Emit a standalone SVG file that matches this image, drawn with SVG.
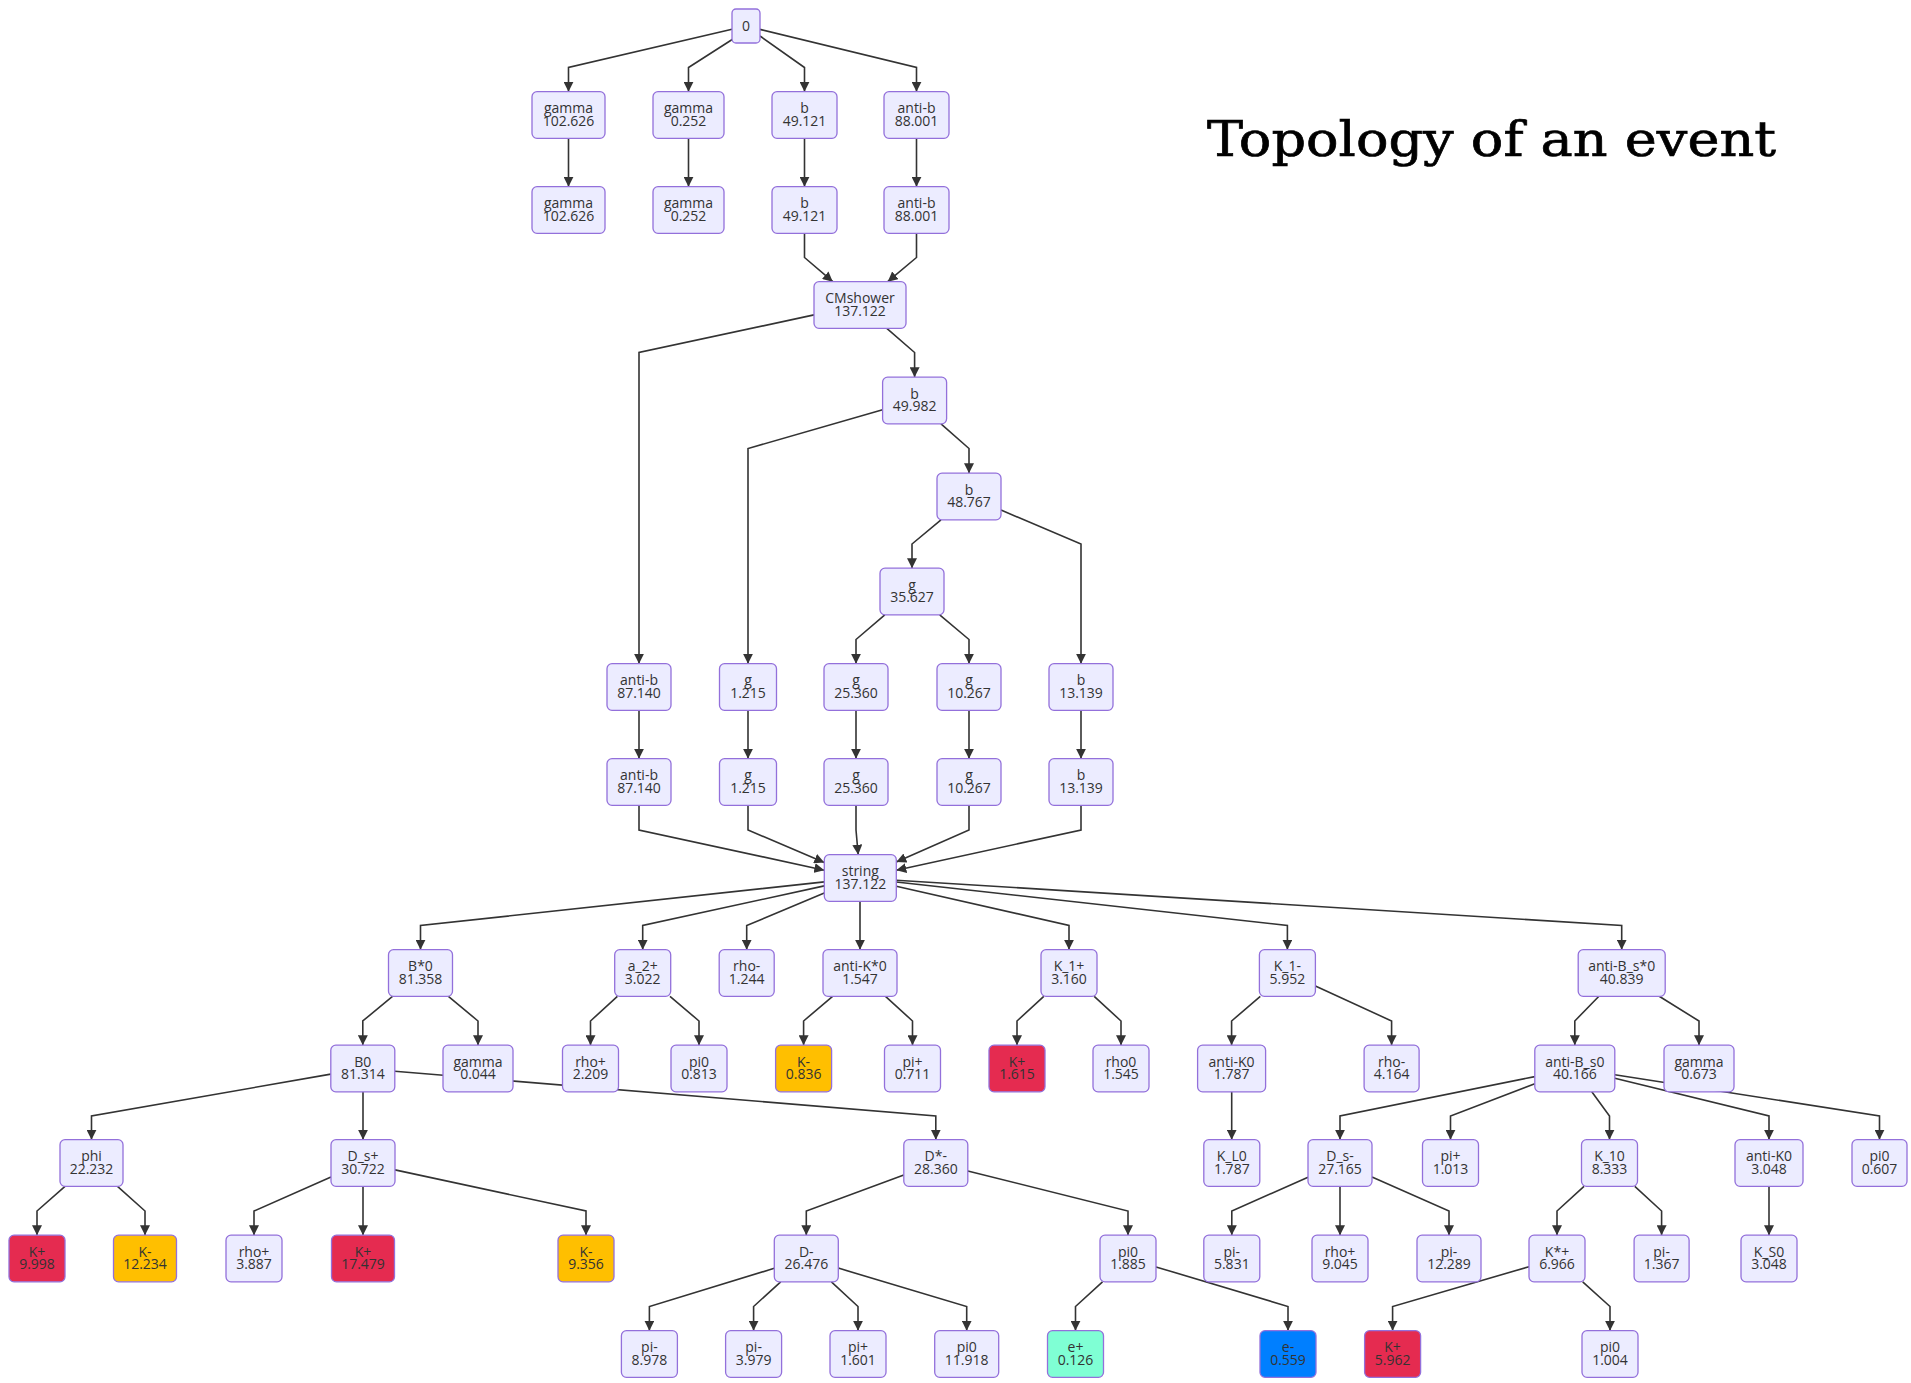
<svg xmlns="http://www.w3.org/2000/svg" width="1911" height="1383" viewBox="0 0 1911 1383">
<style>
.node rect{fill:#ECECFF;stroke:#9370DB;stroke-width:1.3}
.node.kp rect{fill:#E52B50}
.node.km rect{fill:#FFBF00}
.node.ep rect{fill:#7FFFD4}
.node.em rect{fill:#007FFF}
.node text{font-family:"Open Sans","DejaVu Sans",sans-serif;font-size:14px;fill:#333;text-anchor:middle}
.edges path{fill:none;stroke:#333;stroke-width:1.6;marker-end:url(#arrow)}
.title{font-family:"DejaVu Serif","Liberation Serif",serif;font-size:49px;fill:#000;stroke:#000;stroke-width:0.7}
</style>
<defs>
<marker id="arrow" viewBox="0 0 10 10" refX="10" refY="5" markerUnits="userSpaceOnUse" markerWidth="10" markerHeight="10" orient="auto"><path d="M0,0 L10,5 L0,10 z" fill="#333"/></marker>
</defs>
<rect x="0" y="0" width="1911" height="1383" fill="#fff"/>
<text class="title" x="1207" y="156" textLength="569" lengthAdjust="spacingAndGlyphs">Topology of an event</text>
<g class="edges" id="connectors">
<path d="M732,29.3 L568.5,67.5 L568.5,91.7"/>
<path d="M733,39 L688.5,67.5 L688.5,91.7"/>
<path d="M760,36 L804.5,67.5 L804.5,91.7"/>
<path d="M760,29.4 L916.5,67.5 L916.5,91.7"/>
<path d="M568.5,138.3 V186.7"/>
<path d="M688.5,138.3 V186.7"/>
<path d="M804.5,138.3 V186.7"/>
<path d="M916.5,138.3 V186.7"/>
<path d="M804.5,233.3 L804.5,257.5 L832.8,281.7"/>
<path d="M916.5,233.3 L916.5,257.5 L887.7,281.7"/>
<path d="M814,314.9 L639,352.5 L639,663.7"/>
<path d="M886.8,328.3 L914.6,352.5 L914.6,377.2"/>
<path d="M882.6,409.7 L748,448.5 L748,663.7"/>
<path d="M941,423.8 L969,448.5 L969,473.2"/>
<path d="M941,519.8 L912,544 L912,568.2"/>
<path d="M1001,510.1 L1081,544 L1081,663.7"/>
<path d="M884.8,614.8 L856,639.5 L856,663.7"/>
<path d="M939.7,614.8 L969,639.5 L969,663.7"/>
<path d="M639,710.3 V758.7"/>
<path d="M748,710.3 V758.7"/>
<path d="M856,710.3 V758.7"/>
<path d="M969,710.3 V758.7"/>
<path d="M1081,710.3 V758.7"/>
<path d="M639,805.3 L639,830 L824.3,870.2"/>
<path d="M748,805.3 L748,830 L824.3,862.6"/>
<path d="M856,805.3 L856,830 L858.2,854.7"/>
<path d="M969,805.3 L969,830 L896.3,862.1"/>
<path d="M1081,805.3 L1081,830 L896.3,870.2"/>
<path d="M824.3,881.9 L420.5,925.5 L420.5,949.7"/>
<path d="M824.3,885.9 L642.7,925.5 L642.7,949.7"/>
<path d="M824.3,893.1 L746.7,925.5 L746.7,949.7"/>
<path d="M860,901.3 V949.7"/>
<path d="M896.3,886.2 L1069,925.5 L1069,949.7"/>
<path d="M896.3,882 L1287.4,925.5 L1287.4,949.7"/>
<path d="M896.3,880.2 L1621.7,925.5 L1621.7,949.7"/>
<path d="M392.5,996.3 L362.8,1021 L362.8,1045.2"/>
<path d="M448.4,996.3 L478,1021 L478,1045.2"/>
<path d="M617.4,996.3 L590.5,1021 L590.5,1045.2"/>
<path d="M670,996.3 L699,1021 L699,1045.2"/>
<path d="M832.6,996.3 L803.6,1021 L803.6,1045.2"/>
<path d="M885.5,996.3 L912.5,1021 L912.5,1045.2"/>
<path d="M1043.8,996.3 L1017,1021 L1017,1045.2"/>
<path d="M1094.2,996.3 L1121,1021 L1121,1045.2"/>
<path d="M1260.3,996.3 L1231.6,1021 L1231.6,1045.2"/>
<path d="M1315.4,985.9 L1391.6,1021 L1391.6,1045.2"/>
<path d="M1598.9,996.3 L1574.8,1021 L1574.8,1045.2"/>
<path d="M1659.2,996.3 L1699,1021 L1699,1045.2"/>
<path d="M330.8,1074.1 L91.5,1116 L91.5,1139.7"/>
<path d="M363,1091.8 V1139.7"/>
<path d="M394.8,1071.2 L935.8,1116 L935.8,1139.7"/>
<path d="M1231.7,1091.8 V1139.7"/>
<path d="M1534.8,1076.6 L1340,1116 L1340,1139.7"/>
<path d="M1534.8,1083.8 L1450.5,1116 L1450.5,1139.7"/>
<path d="M1591.8,1091.8 L1609.5,1116 L1609.5,1139.7"/>
<path d="M1614.8,1078.3 L1769,1116 L1769,1139.7"/>
<path d="M1614.8,1074.7 L1879.5,1116 L1879.5,1139.7"/>
<path d="M65,1186.3 L37,1211 L37,1235.2"/>
<path d="M117.5,1186.3 L145,1211 L145,1235.2"/>
<path d="M331,1177.1 L254,1211 L254,1235.2"/>
<path d="M363,1186.3 V1235.2"/>
<path d="M395,1169.9 L586,1211 L586,1235.2"/>
<path d="M903.8,1174.9 L806.3,1211 L806.3,1235.2"/>
<path d="M967.8,1171 L1128,1211 L1128,1235.2"/>
<path d="M1308,1177.2 L1231.8,1211 L1231.8,1235.2"/>
<path d="M1340,1186.3 V1235.2"/>
<path d="M1372,1177.1 L1449,1211 L1449,1235.2"/>
<path d="M1584,1186.3 L1557,1211 L1557,1235.2"/>
<path d="M1634.8,1186.3 L1661.6,1211 L1661.6,1235.2"/>
<path d="M1769,1186.3 V1235.2"/>
<path d="M774.3,1268.3 L649.4,1306.5 L649.4,1330.7"/>
<path d="M780.7,1281.8 L753.6,1306.5 L753.6,1330.7"/>
<path d="M831.4,1281.8 L858,1306.5 L858,1330.7"/>
<path d="M838.3,1268.1 L966.7,1306.5 L966.7,1330.7"/>
<path d="M1102.5,1281.8 L1075.5,1306.5 L1075.5,1330.7"/>
<path d="M1156,1266.9 L1288,1306.5 L1288,1330.7"/>
<path d="M1529,1266.7 L1392.6,1306.5 L1392.6,1330.7"/>
<path d="M1582.7,1281.8 L1610,1306.5 L1610,1330.7"/>
</g>
<g id="n0" class="node"><rect x="732" y="9" width="28" height="34" rx="4"/><text x="746" y="31">0</text></g>
<g id="n1a" class="node"><rect x="532" y="91.7" width="73" height="46.6" rx="5"/><text><tspan x="568.5" y="113">gamma</tspan><tspan x="568.5" y="125.5">102.626</tspan></text></g>
<g id="n1b" class="node"><rect x="653" y="91.7" width="71" height="46.6" rx="5"/><text><tspan x="688.5" y="113">gamma</tspan><tspan x="688.5" y="125.5">0.252</tspan></text></g>
<g id="n1c" class="node"><rect x="772" y="91.7" width="65" height="46.6" rx="5"/><text><tspan x="804.5" y="113">b</tspan><tspan x="804.5" y="125.5">49.121</tspan></text></g>
<g id="n1d" class="node"><rect x="884" y="91.7" width="65" height="46.6" rx="5"/><text><tspan x="916.5" y="113">anti-b</tspan><tspan x="916.5" y="125.5">88.001</tspan></text></g>
<g id="n2a" class="node"><rect x="532" y="186.7" width="73" height="46.6" rx="5"/><text><tspan x="568.5" y="208">gamma</tspan><tspan x="568.5" y="220.5">102.626</tspan></text></g>
<g id="n2b" class="node"><rect x="653" y="186.7" width="71" height="46.6" rx="5"/><text><tspan x="688.5" y="208">gamma</tspan><tspan x="688.5" y="220.5">0.252</tspan></text></g>
<g id="n2c" class="node"><rect x="772" y="186.7" width="65" height="46.6" rx="5"/><text><tspan x="804.5" y="208">b</tspan><tspan x="804.5" y="220.5">49.121</tspan></text></g>
<g id="n2d" class="node"><rect x="884" y="186.7" width="65" height="46.6" rx="5"/><text><tspan x="916.5" y="208">anti-b</tspan><tspan x="916.5" y="220.5">88.001</tspan></text></g>
<g id="n3" class="node"><rect x="814" y="281.7" width="92" height="46.6" rx="5"/><text><tspan x="860" y="303">CMshower</tspan><tspan x="860" y="315.5">137.122</tspan></text></g>
<g id="n4" class="node"><rect x="882.6" y="377.2" width="64" height="46.6" rx="5"/><text><tspan x="914.6" y="398.5">b</tspan><tspan x="914.6" y="411">49.982</tspan></text></g>
<g id="n5" class="node"><rect x="937" y="473.2" width="64" height="46.6" rx="5"/><text><tspan x="969" y="494.5">b</tspan><tspan x="969" y="507">48.767</tspan></text></g>
<g id="n6" class="node"><rect x="880" y="568.2" width="64" height="46.6" rx="5"/><text><tspan x="912" y="589.5">g</tspan><tspan x="912" y="602">35.627</tspan></text></g>
<g id="n7a" class="node"><rect x="607" y="663.7" width="64" height="46.6" rx="5"/><text><tspan x="639" y="685">anti-b</tspan><tspan x="639" y="697.5">87.140</tspan></text></g>
<g id="n7b" class="node"><rect x="719.5" y="663.7" width="57" height="46.6" rx="5"/><text><tspan x="748" y="685">g</tspan><tspan x="748" y="697.5">1.215</tspan></text></g>
<g id="n7c" class="node"><rect x="824" y="663.7" width="64" height="46.6" rx="5"/><text><tspan x="856" y="685">g</tspan><tspan x="856" y="697.5">25.360</tspan></text></g>
<g id="n7d" class="node"><rect x="937" y="663.7" width="64" height="46.6" rx="5"/><text><tspan x="969" y="685">g</tspan><tspan x="969" y="697.5">10.267</tspan></text></g>
<g id="n7e" class="node"><rect x="1049" y="663.7" width="64" height="46.6" rx="5"/><text><tspan x="1081" y="685">b</tspan><tspan x="1081" y="697.5">13.139</tspan></text></g>
<g id="n8a" class="node"><rect x="607" y="758.7" width="64" height="46.6" rx="5"/><text><tspan x="639" y="780">anti-b</tspan><tspan x="639" y="792.5">87.140</tspan></text></g>
<g id="n8b" class="node"><rect x="719.5" y="758.7" width="57" height="46.6" rx="5"/><text><tspan x="748" y="780">g</tspan><tspan x="748" y="792.5">1.215</tspan></text></g>
<g id="n8c" class="node"><rect x="824" y="758.7" width="64" height="46.6" rx="5"/><text><tspan x="856" y="780">g</tspan><tspan x="856" y="792.5">25.360</tspan></text></g>
<g id="n8d" class="node"><rect x="937" y="758.7" width="64" height="46.6" rx="5"/><text><tspan x="969" y="780">g</tspan><tspan x="969" y="792.5">10.267</tspan></text></g>
<g id="n8e" class="node"><rect x="1049" y="758.7" width="64" height="46.6" rx="5"/><text><tspan x="1081" y="780">b</tspan><tspan x="1081" y="792.5">13.139</tspan></text></g>
<g id="n9" class="node"><rect x="824.3" y="854.7" width="72" height="46.6" rx="5"/><text><tspan x="860.3" y="876">string</tspan><tspan x="860.3" y="888.5">137.122</tspan></text></g>
<g id="n10a" class="node"><rect x="388.5" y="949.7" width="64" height="46.6" rx="5"/><text><tspan x="420.5" y="971">B*0</tspan><tspan x="420.5" y="983.5">81.358</tspan></text></g>
<g id="n10b" class="node"><rect x="614.7" y="949.7" width="56" height="46.6" rx="5"/><text><tspan x="642.7" y="971">a_2+</tspan><tspan x="642.7" y="983.5">3.022</tspan></text></g>
<g id="n10c" class="node"><rect x="719.2" y="949.7" width="55" height="46.6" rx="5"/><text><tspan x="746.7" y="971">rho-</tspan><tspan x="746.7" y="983.5">1.244</tspan></text></g>
<g id="n10d" class="node"><rect x="823" y="949.7" width="74" height="46.6" rx="5"/><text><tspan x="860" y="971">anti-K*0</tspan><tspan x="860" y="983.5">1.547</tspan></text></g>
<g id="n10e" class="node"><rect x="1041" y="949.7" width="56" height="46.6" rx="5"/><text><tspan x="1069" y="971">K_1+</tspan><tspan x="1069" y="983.5">3.160</tspan></text></g>
<g id="n10f" class="node"><rect x="1259.4" y="949.7" width="56" height="46.6" rx="5"/><text><tspan x="1287.4" y="971">K_1-</tspan><tspan x="1287.4" y="983.5">5.952</tspan></text></g>
<g id="n10g" class="node"><rect x="1578.2" y="949.7" width="87" height="46.6" rx="5"/><text><tspan x="1621.7" y="971">anti-B_s*0</tspan><tspan x="1621.7" y="983.5">40.839</tspan></text></g>
<g id="n11a" class="node"><rect x="330.8" y="1045.2" width="64" height="46.6" rx="5"/><text><tspan x="362.8" y="1066.5">B0</tspan><tspan x="362.8" y="1079">81.314</tspan></text></g>
<g id="n11b" class="node"><rect x="443" y="1045.2" width="70" height="46.6" rx="5"/><text><tspan x="478" y="1066.5">gamma</tspan><tspan x="478" y="1079">0.044</tspan></text></g>
<g id="n11c" class="node"><rect x="562.5" y="1045.2" width="56" height="46.6" rx="5"/><text><tspan x="590.5" y="1066.5">rho+</tspan><tspan x="590.5" y="1079">2.209</tspan></text></g>
<g id="n11d" class="node"><rect x="671" y="1045.2" width="56" height="46.6" rx="5"/><text><tspan x="699" y="1066.5">pi0</tspan><tspan x="699" y="1079">0.813</tspan></text></g>
<g id="n11e" class="node km"><rect x="775.6" y="1045.2" width="56" height="46.6" rx="5"/><text><tspan x="803.6" y="1066.5">K-</tspan><tspan x="803.6" y="1079">0.836</tspan></text></g>
<g id="n11f" class="node"><rect x="884.5" y="1045.2" width="56" height="46.6" rx="5"/><text><tspan x="912.5" y="1066.5">pi+</tspan><tspan x="912.5" y="1079">0.711</tspan></text></g>
<g id="n11g" class="node kp"><rect x="989" y="1045.2" width="56" height="46.6" rx="5"/><text><tspan x="1017" y="1066.5">K+</tspan><tspan x="1017" y="1079">1.615</tspan></text></g>
<g id="n11h" class="node"><rect x="1093" y="1045.2" width="56" height="46.6" rx="5"/><text><tspan x="1121" y="1066.5">rho0</tspan><tspan x="1121" y="1079">1.545</tspan></text></g>
<g id="n11i" class="node"><rect x="1197.6" y="1045.2" width="68" height="46.6" rx="5"/><text><tspan x="1231.6" y="1066.5">anti-K0</tspan><tspan x="1231.6" y="1079">1.787</tspan></text></g>
<g id="n11j" class="node"><rect x="1364.1" y="1045.2" width="55" height="46.6" rx="5"/><text><tspan x="1391.6" y="1066.5">rho-</tspan><tspan x="1391.6" y="1079">4.164</tspan></text></g>
<g id="n11k" class="node"><rect x="1534.8" y="1045.2" width="80" height="46.6" rx="5"/><text><tspan x="1574.8" y="1066.5">anti-B_s0</tspan><tspan x="1574.8" y="1079">40.166</tspan></text></g>
<g id="n11l" class="node"><rect x="1664" y="1045.2" width="70" height="46.6" rx="5"/><text><tspan x="1699" y="1066.5">gamma</tspan><tspan x="1699" y="1079">0.673</tspan></text></g>
<g id="n12a" class="node"><rect x="60" y="1139.7" width="63" height="46.6" rx="5"/><text><tspan x="91.5" y="1161">phi</tspan><tspan x="91.5" y="1173.5">22.232</tspan></text></g>
<g id="n12b" class="node"><rect x="331" y="1139.7" width="64" height="46.6" rx="5"/><text><tspan x="363" y="1161">D_s+</tspan><tspan x="363" y="1173.5">30.722</tspan></text></g>
<g id="n12c" class="node"><rect x="903.8" y="1139.7" width="64" height="46.6" rx="5"/><text><tspan x="935.8" y="1161">D*-</tspan><tspan x="935.8" y="1173.5">28.360</tspan></text></g>
<g id="n12d" class="node"><rect x="1203.8" y="1139.7" width="56" height="46.6" rx="5"/><text><tspan x="1231.8" y="1161">K_L0</tspan><tspan x="1231.8" y="1173.5">1.787</tspan></text></g>
<g id="n12e" class="node"><rect x="1308" y="1139.7" width="64" height="46.6" rx="5"/><text><tspan x="1340" y="1161">D_s-</tspan><tspan x="1340" y="1173.5">27.165</tspan></text></g>
<g id="n12f" class="node"><rect x="1422.5" y="1139.7" width="56" height="46.6" rx="5"/><text><tspan x="1450.5" y="1161">pi+</tspan><tspan x="1450.5" y="1173.5">1.013</tspan></text></g>
<g id="n12g" class="node"><rect x="1581.5" y="1139.7" width="56" height="46.6" rx="5"/><text><tspan x="1609.5" y="1161">K_10</tspan><tspan x="1609.5" y="1173.5">8.333</tspan></text></g>
<g id="n12h" class="node"><rect x="1735" y="1139.7" width="68" height="46.6" rx="5"/><text><tspan x="1769" y="1161">anti-K0</tspan><tspan x="1769" y="1173.5">3.048</tspan></text></g>
<g id="n12i" class="node"><rect x="1852" y="1139.7" width="55" height="46.6" rx="5"/><text><tspan x="1879.5" y="1161">pi0</tspan><tspan x="1879.5" y="1173.5">0.607</tspan></text></g>
<g id="n13a" class="node kp"><rect x="9" y="1235.2" width="56" height="46.6" rx="5"/><text><tspan x="37" y="1256.5">K+</tspan><tspan x="37" y="1269">9.998</tspan></text></g>
<g id="n13b" class="node km"><rect x="113.5" y="1235.2" width="63" height="46.6" rx="5"/><text><tspan x="145" y="1256.5">K-</tspan><tspan x="145" y="1269">12.234</tspan></text></g>
<g id="n13c" class="node"><rect x="226" y="1235.2" width="56" height="46.6" rx="5"/><text><tspan x="254" y="1256.5">rho+</tspan><tspan x="254" y="1269">3.887</tspan></text></g>
<g id="n13d" class="node kp"><rect x="331.5" y="1235.2" width="63" height="46.6" rx="5"/><text><tspan x="363" y="1256.5">K+</tspan><tspan x="363" y="1269">17.479</tspan></text></g>
<g id="n13e" class="node km"><rect x="558" y="1235.2" width="56" height="46.6" rx="5"/><text><tspan x="586" y="1256.5">K-</tspan><tspan x="586" y="1269">9.356</tspan></text></g>
<g id="n13f" class="node"><rect x="774.3" y="1235.2" width="64" height="46.6" rx="5"/><text><tspan x="806.3" y="1256.5">D-</tspan><tspan x="806.3" y="1269">26.476</tspan></text></g>
<g id="n13g" class="node"><rect x="1100" y="1235.2" width="56" height="46.6" rx="5"/><text><tspan x="1128" y="1256.5">pi0</tspan><tspan x="1128" y="1269">1.885</tspan></text></g>
<g id="n13h" class="node"><rect x="1203.8" y="1235.2" width="56" height="46.6" rx="5"/><text><tspan x="1231.8" y="1256.5">pi-</tspan><tspan x="1231.8" y="1269">5.831</tspan></text></g>
<g id="n13i" class="node"><rect x="1312" y="1235.2" width="56" height="46.6" rx="5"/><text><tspan x="1340" y="1256.5">rho+</tspan><tspan x="1340" y="1269">9.045</tspan></text></g>
<g id="n13j" class="node"><rect x="1417" y="1235.2" width="64" height="46.6" rx="5"/><text><tspan x="1449" y="1256.5">pi-</tspan><tspan x="1449" y="1269">12.289</tspan></text></g>
<g id="n13k" class="node"><rect x="1529" y="1235.2" width="56" height="46.6" rx="5"/><text><tspan x="1557" y="1256.5">K*+</tspan><tspan x="1557" y="1269">6.966</tspan></text></g>
<g id="n13l" class="node"><rect x="1634.1" y="1235.2" width="55" height="46.6" rx="5"/><text><tspan x="1661.6" y="1256.5">pi-</tspan><tspan x="1661.6" y="1269">1.367</tspan></text></g>
<g id="n13m" class="node"><rect x="1741" y="1235.2" width="56" height="46.6" rx="5"/><text><tspan x="1769" y="1256.5">K_S0</tspan><tspan x="1769" y="1269">3.048</tspan></text></g>
<g id="n14a" class="node"><rect x="621.4" y="1330.7" width="56" height="46.6" rx="5"/><text><tspan x="649.4" y="1352">pi-</tspan><tspan x="649.4" y="1364.5">8.978</tspan></text></g>
<g id="n14b" class="node"><rect x="725.6" y="1330.7" width="56" height="46.6" rx="5"/><text><tspan x="753.6" y="1352">pi-</tspan><tspan x="753.6" y="1364.5">3.979</tspan></text></g>
<g id="n14c" class="node"><rect x="830" y="1330.7" width="56" height="46.6" rx="5"/><text><tspan x="858" y="1352">pi+</tspan><tspan x="858" y="1364.5">1.601</tspan></text></g>
<g id="n14d" class="node"><rect x="934.7" y="1330.7" width="64" height="46.6" rx="5"/><text><tspan x="966.7" y="1352">pi0</tspan><tspan x="966.7" y="1364.5">11.918</tspan></text></g>
<g id="n14e" class="node ep"><rect x="1047.5" y="1330.7" width="56" height="46.6" rx="5"/><text><tspan x="1075.5" y="1352">e+</tspan><tspan x="1075.5" y="1364.5">0.126</tspan></text></g>
<g id="n14f" class="node em"><rect x="1260" y="1330.7" width="56" height="46.6" rx="5"/><text><tspan x="1288" y="1352">e-</tspan><tspan x="1288" y="1364.5">0.559</tspan></text></g>
<g id="n14g" class="node kp"><rect x="1364.6" y="1330.7" width="56" height="46.6" rx="5"/><text><tspan x="1392.6" y="1352">K+</tspan><tspan x="1392.6" y="1364.5">5.962</tspan></text></g>
<g id="n14h" class="node"><rect x="1582" y="1330.7" width="56" height="46.6" rx="5"/><text><tspan x="1610" y="1352">pi0</tspan><tspan x="1610" y="1364.5">1.004</tspan></text></g>
</svg>
